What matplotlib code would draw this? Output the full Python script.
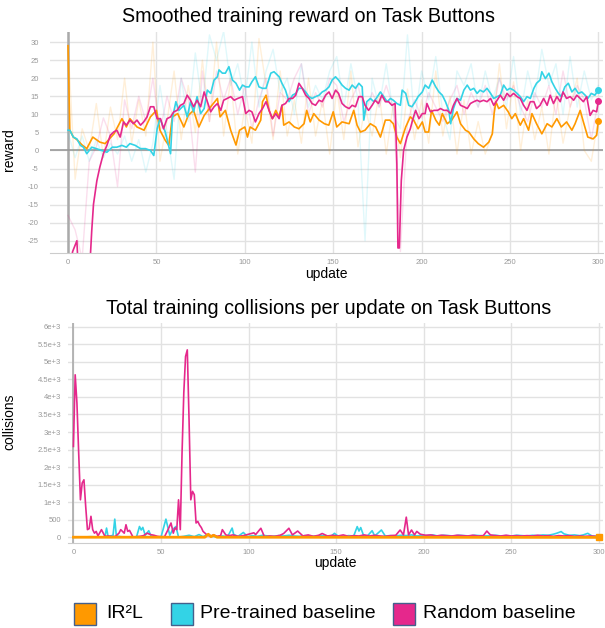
import numpy as np
import matplotlib
matplotlib.use("Agg")
import matplotlib.pyplot as plt
from matplotlib.patches import Rectangle

plt.rcParams['font.family'] = ['Liberation Sans', 'DejaVu Sans']
plt.rcParams['axes.unicode_minus'] = False

C_IR2L = "#ff9900"
C_PRE = "#33d3e6"
C_RAND = "#e5288c"

# ---------- top: smoothed training reward ----------
ir2l_x = [0, 1, 3, 5, 8, 10.6, 14, 18, 21, 26, 30.5, 33, 35, 39, 43, 46.6, 50, 52, 55, 57, 59, 62, 65.5, 68,
          71, 74, 77, 80.7, 84.5, 86, 89, 92, 95, 97, 100, 101.5, 103, 106, 109, 110, 112, 113.7, 115.6, 117.5,
          119.4, 121, 122, 125, 128, 130.6, 133.5, 135, 137, 139, 142, 145, 147.5, 150, 152, 155, 159, 161.6,
          163.5, 165.4, 168, 171, 174, 176.7, 179.5, 182, 184, 186, 188, 191, 193.6, 195.5, 198, 200.4, 202,
          204, 205.6, 208, 210, 211.7, 214.5, 217, 220, 222, 224.8, 226.7, 229.5, 232, 235, 238, 240, 241, 242,
          243.6, 246.4, 249, 251, 253, 255.8, 257.7, 260.5, 262.4, 265, 268, 271, 273.7, 276.5, 279, 282, 285,
          286.8, 289.7, 291.5, 294, 297, 299, 300]
ir2l_y = [29, 5.6, 3.7, 3.0, 1.5, 0.5, 3.7, 2.3, 1.9, 4.6, 8.8, 6.5, 8.8, 6.5, 5.6, 9.3, 11.1, 5.6, 2.8, 1.4, 9.3,
          10.2, 6.5, 9.7, 11.1, 6.5, 9.7, 12.1, 14.4, 9.3, 11.1, 5.6, 1.5, 5.6, 6.5, 3.7, 6.5, 5.6, 8.4, 13.5,
          15.3, 11.1, 8.8, 11.1, 9.3, 12.5, 7.0, 7.9, 6.5, 6.0, 7.4, 11.1, 7.9, 10.2, 8.4, 7.4, 7.0, 10.7, 6.5,
          7.9, 7.4, 11.1, 7.0, 5.1, 5.6, 7.4, 6.5, 3.7, 8.4, 8.4, 7.4, 3.7, 1.9, 6.5, 9.3, 8.4, 6.0, 7.9, 5.1,
          5.1, 11.1, 8.4, 7.0, 10.2, 7.4, 8.4, 10.7, 7.4, 5.6, 5.1, 3.2, 1.9, 0.9, 2.3, 4.6, 10.2, 13.5, 11.6,
          12.5, 10.7, 8.8, 10.2, 7.0, 8.8, 5.6, 10.2, 7.4, 4.6, 7.4, 6.5, 8.8, 6.5, 7.9, 5.6, 7.4, 11.1, 7.9,
          3.7, 3.2, 4.2, 8.2]

pre_x = [0, 1, 3, 5, 7, 8.7, 10.6, 13.4, 16, 19, 22, 25, 27.6, 30.5, 33, 35, 38, 41, 43.8, 46.6, 48.5, 50.4, 52,
         55, 58, 59, 61, 62.7, 65.5, 67.4, 69.3, 71, 73, 75, 77, 78.8, 80.7, 82.6, 84.5, 85.4, 87.3, 89, 91, 93,
         95, 97, 98.7, 100.5, 102.4, 104, 106, 108, 110, 112, 114.7, 116.5, 119.4, 121, 123, 125, 127, 128.8,
         130.6, 132.5, 134.4, 136.3, 138, 140, 142, 143.8, 145.7, 147.6, 149.4, 151.3, 153, 155, 157, 159,
         160.7, 162.6, 164.5, 166.4, 167.3, 169, 171, 173, 175, 176.7, 178.6, 180.5, 182.4, 184, 186, 188, 189,
         191, 192.7, 194.5, 196.4, 198, 200.4, 202, 204, 206, 208, 209.8, 211.7, 213.5, 215.4, 216.4, 218, 220,
         222, 223.9, 225.8, 227.6, 229.5, 231.4, 233, 235, 237, 239, 240.8, 242.7, 244.5, 246.4, 248.3, 250,
         252, 254, 255.8, 257.7, 259.6, 261.5, 263.5, 265, 267, 268, 270, 272, 273.7, 275.6, 277.4, 279, 281,
         283, 285, 286.8, 288.7, 290.6, 292.5, 294, 296, 298, 300]
pre_y = [5.6, 5.6, 3.7, 3.2, 1.4, 0.9, -0.9, 0.9, 0.5, 0.0, -0.5, 0.9, 0.9, 1.4, 0.9, 1.9, 1.4, 0.5, 0.5, 0.0,
         -1.4, 6.0, 8.8, 5.1, -0.9, 8.8, 13.5, 11.1, 12.5, 9.3, 13.5, 10.7, 14.9, 10.2, 11.6, 16.7, 15.8, 19.5,
         20.4, 22.3, 21.4, 21.4, 23.2, 19.5, 18.6, 16.7, 18.1, 17.6, 17.6, 19.0, 20.4, 17.6, 17.2, 17.2, 21.4,
         21.8, 20.4, 18.6, 16.7, 13.5, 15.3, 15.8, 17.2, 17.2, 16.2, 14.9, 14.4, 14.9, 15.3, 16.2, 16.7, 17.6,
         19.5, 20.4, 19.5, 18.1, 17.2, 16.7, 18.1, 17.2, 18.6, 17.6, 8.4, 13.5, 14.4, 13.5, 14.9, 16.2, 14.9,
         13.5, 14.4, 13.9, 13.0, 12.5, 16.7, 15.8, 12.5, 12.1, 13.5, 14.9, 16.2, 18.1, 17.2, 19.5, 17.6, 16.2,
         15.3, 13.5, 11.1, 7.4, 11.6, 14.4, 13.9, 16.7, 18.1, 16.7, 17.2, 15.8, 16.7, 16.2, 17.2, 15.8, 14.4,
         14.9, 15.3, 18.1, 16.7, 17.2, 16.7, 15.8, 14.9, 13.5, 14.9, 14.4, 17.2, 18.6, 19.5, 21.8, 19.9, 21.4,
         19.0, 17.2, 15.8, 14.9, 17.6, 18.6, 16.2, 17.2, 15.8, 16.2, 15.3, 14.4, 15.8, 15.3, 16.7]

rand_x = [0, 2.6, 5, 6, 12, 13.4, 14.4, 16.3, 18, 20, 22, 23.9, 25.8, 27.6, 29.5, 31.4, 33, 35, 37, 39, 41, 42.8,
          44.7, 46.6, 48.5, 50.4, 52.3, 54, 56, 58, 59.8, 61.7, 63.6, 65.5, 67.4, 69.3, 71, 73, 75, 77, 78.8,
          80.7, 82.6, 84.5, 86.4, 88, 90, 92, 94, 96, 98.7, 100.5, 102.4, 104, 106, 108, 110, 112, 113.7, 115.6,
          117.5, 119.4, 121, 123, 125, 127, 128.8, 130.6, 132.5, 134.4, 136.3, 138, 140, 142, 143.8, 145.7,
          147.6, 149.4, 151.3, 153, 155, 157, 159, 160.7, 162.6, 164.5, 166.4, 168, 170, 172, 173.7, 175.6,
          177.5, 179.5, 181.3, 183.2, 185, 186, 186.6, 187.4, 188.5, 189.8, 191.7, 193.6, 195, 196.6, 198.5,
          200.4, 202, 203, 205, 207, 209, 210.7, 212.6, 214.5, 216.4, 218, 220, 222, 223.9, 225.8, 227.6, 229.5,
          231.4, 233, 235, 237, 239, 240.8, 242.7, 244.5, 246.4, 248.3, 250, 252, 254, 255.8, 257.7, 259.6,
          261.5, 263.5, 265, 267, 269, 271, 272.7, 274.6, 276.5, 278.4, 280, 282, 284, 286, 287.8, 289.7, 291.5,
          293.4, 295.3, 297, 299, 300]
rand_y = [-35, -28, -25, -35, -35, -22.3, -14.9, -8.4, -4.6, -0.9, 1.4, 4.2, 5.1, 5.6, 3.7, 7.9, 7.0, 8.4, 7.4,
          8.4, 7.0, 7.9, 9.3, 12.1, 12.1, 8.8, 8.8, 6.0, 8.8, 9.3, 10.7, 11.1, 12.5, 13.0, 15.3, 13.9, 12.1,
          13.9, 12.1, 16.2, 13.5, 10.7, 12.1, 13.0, 11.1, 13.9, 14.4, 14.9, 13.9, 14.4, 14.9, 10.2, 11.1, 10.7,
          7.9, 10.2, 11.6, 13.5, 11.1, 8.8, 10.2, 8.8, 12.5, 13.0, 14.4, 14.4, 15.3, 18.6, 17.2, 15.3, 14.4,
          13.0, 12.5, 13.9, 13.5, 15.3, 16.2, 14.4, 16.7, 15.8, 13.0, 12.1, 11.6, 12.5, 12.1, 14.9, 14.9, 12.5,
          11.1, 12.5, 13.9, 13.0, 15.3, 13.5, 13.5, 12.5, 13.0, -3.7, -27, -27, -8.4, 0.0, 3.7, 6.0, 8.6, 11.1,
          8.8, 10.2, 10.2, 13.0, 10.7, 11.1, 11.1, 11.6, 11.1, 11.1, 10.2, 12.5, 14.4, 12.5, 12.1, 11.6, 13.0,
          13.5, 13.9, 13.5, 13.9, 13.5, 14.4, 12.5, 13.9, 15.3, 13.9, 15.8, 14.9, 15.8, 14.9, 14.4, 12.5, 11.1,
          13.5, 13.5, 11.6, 12.5, 14.4, 12.5, 15.3, 13.0, 14.9, 13.5, 16.2, 14.4, 14.9, 13.9, 15.3, 14.4, 13.5,
          14.9, 9.7, 11.1, 10.7, 13.7]

# raw (unsmoothed) reward, read every 4 updates
raw_x = list(range(0, 301, 4))
ir2l_raw = [29, -8, 6, 0, 13, -2, 12, 3, 20, 2, 14, 4, 30, -3, 8, 22, 3, 18, 5, 25, 8, 30, 4, 20, -1, 12,
            2, 31, 18, 3, 22, 4, 14, 2, 20, 4, 14, -1, 17, 3, 22, 1, 12, 4, 16, -1, 13, -2, 17, 3, 14, 2,
            22, 4, 15, -1, 14, -1, 8, -1, 5, 24, 6, 19, 0, 14, 3, 12, -1, 16, 2, 12, 20, 0, -3, 9]
pre_raw = [5, -2, 4, -3, 3, -2, 2, -1, 4, -3, 3, -6, 2, 18, 5, -8, 20, 8, 27, 12, 32, 25, 33, 18, 24, 14,
           30, 12, 22, 28, 16, 20, 10, 24, 12, 18, 14, 22, 26, 12, 24, 14, -25, 20, 12, 24, 10, 6, 32, 8,
           22, 14, 26, 10, 3, 22, 18, 24, 12, 22, 14, 20, 12, 26, 10, 22, 14, 28, 18, 24, 10, 26, 12, 22,
           14, 18]
rand_raw = [-18, -22, -30, -3, 1, 9, 4, -10, 14, 6, 15, 8, 20, 5, 15, 8, 20, 14, -6, 22, 8, 22, 14, 20,
            10, 18, 6, 14, 20, 4, 16, 14, 20, 24, 10, 16, 12, 20, 18, 8, 14, 18, 10, 16, 12, 18, 12, -28,
            8, 14, 9, 16, 12, 8, 14, 18, 10, 16, 12, 18, 10, 20, 14, 18, 12, 8, 16, 12, 18, 10, 22, 12, 18,
            14, 3, 14]

# ---------- bottom: collisions per update ----------
col_ir2l_x = [0, 75, 77, 78.5, 80, 82, 300]
col_ir2l_y = [5, 5, 90, 20, 60, 5, 0]

col_pre_x = [0, 5, 10, 15, 18, 18.9, 19.8, 22.6, 23.6, 24.5, 27, 30, 33, 36, 37.7, 38.7, 39.6, 41, 43, 44.3,
             47, 50, 52.8, 53.8, 55, 56.6, 58.5, 60, 63, 66, 69, 71.7, 74, 76.4, 79, 82, 85, 88, 90.6, 91.5, 94,
             97, 99.4, 102, 105, 108, 111, 114, 117, 120, 123, 126, 129, 132, 135, 138, 141, 144, 147, 149, 151,
             154, 157, 160, 162, 163, 164, 165.7, 168, 170.5, 172, 175.8, 178, 181, 184, 187, 190, 193, 196, 199,
             202, 205, 208, 211, 214, 217, 220, 223, 226, 229, 232, 235, 238, 241, 244, 247, 250, 253, 256, 259,
             262, 265, 268, 271, 274, 276, 278.4, 280, 283, 286, 289, 291, 293.6, 296, 299, 300]
col_pre_y = [0, 10, 20, 10, 20, 265, 20, 60, 520, 40, 20, 10, 20, 10, 310, 210, 285, 60, 190, 40, 20, 10, 520,
             310, 60, 220, 310, 10, 30, 60, 20, 80, 20, 80, 30, 20, 40, 20, 265, 80, 30, 140, 20, 50, 30, 60,
             40, 30, 50, 40, 60, 40, 30, 50, 40, 30, 50, 40, 30, 115, 40, 30, 50, 40, 307, 180, 280, 40, 50,
             190, 40, 210, 40, 50, 40, 60, 50, 70, 40, 60, 50, 70, 40, 60, 50, 40, 60, 50, 40, 60, 50, 40, 50,
             60, 40, 50, 40, 60, 50, 40, 60, 50, 70, 60, 90, 120, 165, 100, 60, 70, 50, 70, 115, 40, 30, 30]

col_rand_x = [0, 1, 2, 3, 4, 5, 6, 7, 8, 9, 10, 11, 12, 13, 14, 16, 18, 20, 22, 24, 26, 27, 28, 29, 30, 31, 32,
              34, 36, 38, 40, 42, 44, 46, 48, 50, 52, 54, 55.7, 57, 58, 59, 60, 61, 62, 63, 64, 65, 66, 67, 68,
              69, 70, 71, 72, 73, 74, 76, 78, 80, 82, 84, 85, 87, 89, 91, 94, 97, 100, 103, 104, 107, 109, 112,
              115, 118, 120, 123, 125, 128, 131, 134, 137, 140, 142, 145, 148, 151, 154, 157, 160, 163, 166, 169,
              172, 175, 178, 181, 184, 186.5, 188.4, 190, 191.3, 193, 194.7, 196, 198, 201, 204, 207, 210, 213,
              216, 219, 222, 225, 228, 231, 234, 236, 238, 241, 244, 247, 250, 253, 256, 259, 262, 265, 268, 271,
              274, 277, 280, 283, 286, 289, 292, 295, 298, 300]
col_rand_y = [2590, 4630, 3825, 2400, 1070, 1550, 1640, 880, 220, 250, 600, 220, 120, 170, 40, 220, 30, 40, 20,
              30, 120, 220, 170, 120, 360, 170, 200, 10, 20, 30, 50, 120, 80, 60, 30, 20, 20, 220, 410, 120,
              270, 220, 1070, 220, 2400, 4110, 5150, 5340, 3350, 1070, 1310, 1215, 410, 455, 350, 280, 170, 80,
              30, 70, 30, 50, 220, 70, 50, 70, 30, 50, 90, 130, 80, 260, 20, 40, 30, 60, 110, 260, 70, 180, 40,
              70, 30, 60, 110, 40, 60, 40, 70, 30, 50, 40, 70, 40, 60, 40, 30, 50, 60, 210, 70, 576, 70, 210,
              70, 170, 90, 60, 70, 40, 60, 50, 40, 60, 50, 40, 60, 40, 50, 180, 70, 50, 40, 60, 40, 50, 40, 50,
              40, 60, 40, 50, 30, 50, 40, 50, 30, 40, 30, 40, 30, 20]

reward_ticks = list(range(-25, 31, 5))
col_ticks = [0, 500, 1000, 1500, 2000, 2500, 3000, 3500, 4000, 4500, 5000, 5500, 6000]
col_labels = ["0", "500", "1e+3", "1.5e+3", "2e+3", "2.5e+3", "3e+3", "3.5e+3", "4e+3", "4.5e+3",
              "5e+3", "5.5e+3", "6e+3"]
x_ticks = list(range(0, 301, 50))
legend_names = ["IR²L", "Pre-trained baseline", "Random baseline"]

fig = plt.figure(figsize=(6.05, 6.28), dpi=100)
W, H = 605, 628


def style(ax):
    for s in ["left", "right", "top"]:
        ax.spines[s].set_visible(False)
    ax.spines["bottom"].set_color("#cccccc")
    ax.grid(True, color="#e2e2e2", lw=1)
    ax.set_axisbelow(True)
    ax.tick_params(length=0, labelsize=5.5, labelcolor="#999999")
    ax.set_xticks(x_ticks)


# top
ax1 = fig.add_axes([50 / W, 1 - 253 / H, 553 / W, 221 / H])
style(ax1)
ax1.set_xlim(-10.2, 302.6)
ax1.set_ylim(-28.4, 32.8)
ax1.set_yticks(reward_ticks)
ax1.tick_params(axis="y", pad=8)
ax1.tick_params(axis="x", pad=4)
ax1.axvline(0, color="#aaaaaa", lw=1.8, zorder=1)
ax1.axhline(0, color="#999999", lw=1.2, zorder=1)
ax1.plot(raw_x, ir2l_raw, color=C_IR2L, lw=1, alpha=0.15)
ax1.plot(raw_x, pre_raw, color=C_PRE, lw=1, alpha=0.15)
ax1.plot(raw_x, rand_raw, color=C_RAND, lw=1, alpha=0.15)
ax1.plot(ir2l_x, ir2l_y, color=C_IR2L, lw=1.2)
ax1.plot(pre_x, pre_y, color=C_PRE, lw=1.2)
ax1.plot(rand_x, rand_y, color=C_RAND, lw=1.2)
for xs, ys, c in [(ir2l_x, ir2l_y, C_IR2L), (pre_x, pre_y, C_PRE), (rand_x, rand_y, C_RAND)]:
    ax1.plot(xs[-1], ys[-1], "o", color=c, ms=4, clip_on=False)
ax1.set_xlabel("update", fontsize=10, labelpad=1)
ax1.set_ylabel("reward", fontsize=10)
ax1.yaxis.set_label_coords((16 - 50) / 553, 0.47)
fig.text(309 / W, 1 - 17 / H, "Smoothed training reward on Task Buttons", fontsize=14.2,
         ha="center", va="center")

# bottom
ax2 = fig.add_axes([68 / W, 1 - 543 / H, 535 / W, 220 / H])
style(ax2)
ax2.set_xlim(-3.1, 302.3)
ax2.set_ylim(-160, 6105)
ax2.set_yticks(col_ticks)
ax2.set_yticklabels(col_labels)
ax2.tick_params(axis="y", pad=5)
ax2.tick_params(axis="x", pad=4)
ax2.axvline(0, color="#aaaaaa", lw=1.2, zorder=1)
ax2.plot(col_pre_x, col_pre_y, color=C_PRE, lw=1.2)
ax2.plot(col_rand_x, col_rand_y, color=C_RAND, lw=1.2)
ax2.plot(col_ir2l_x, col_ir2l_y, color=C_IR2L, lw=2)
ax2.plot(col_ir2l_x[-1], col_ir2l_y[-1], "s", color=C_IR2L, ms=4, clip_on=False)
ax2.set_xlabel("update", fontsize=10, labelpad=0)
ax2.set_ylabel("collisions", fontsize=10)
ax2.yaxis.set_label_coords((16 - 68) / 535, 0.55)
fig.text(329 / W, 1 - 308 / H, "Total training collisions per update on Task Buttons", fontsize=14.2,
         ha="center", va="center")

# legend
sq = [(74, C_IR2L), (171, C_PRE), (393, C_RAND)]
tx = [106, 200, 423]
for (x0, c), t, name in zip(sq, tx, legend_names):
    fig.patches.append(Rectangle((x0 / W, 1 - 625 / H), 22 / W, 22 / H, transform=fig.transFigure,
                                 facecolor=c, edgecolor="#44608c", lw=1))
    fig.text(t / W, 1 - 614 / H, name, fontsize=14, ha="left", va="center")

fig.savefig("out.png", dpi=100)
